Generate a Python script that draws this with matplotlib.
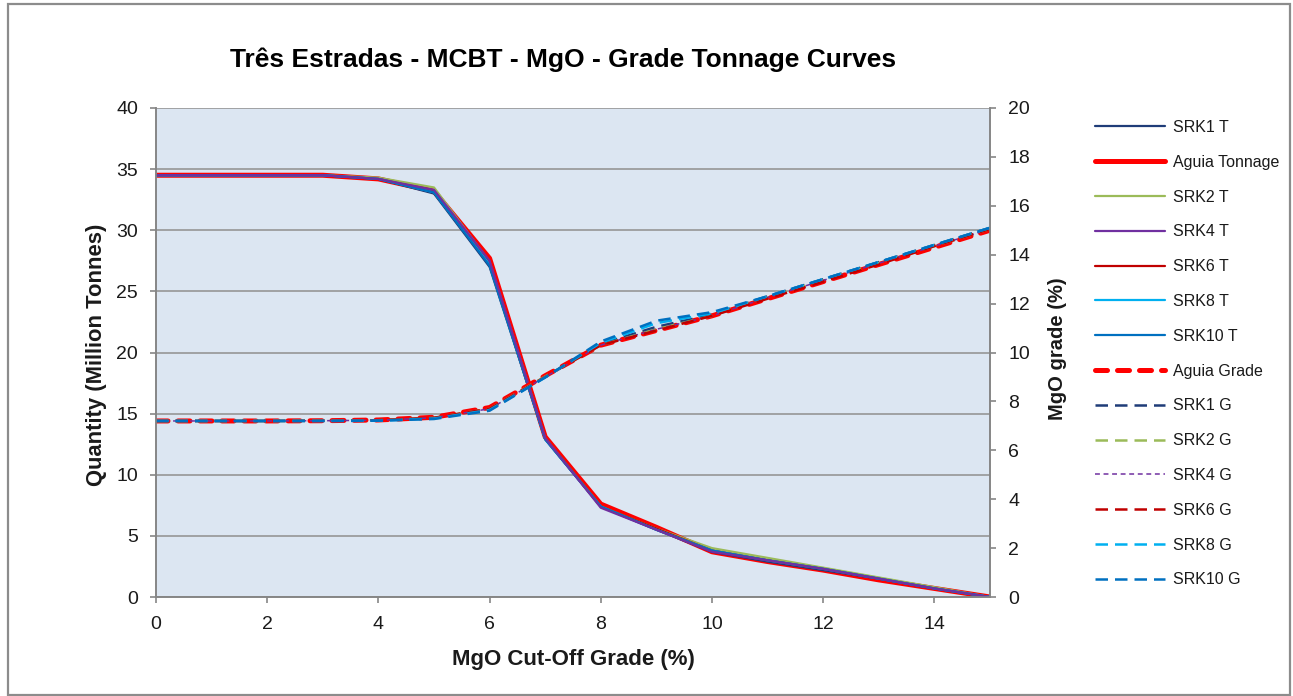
import matplotlib
matplotlib.use("Agg")
import matplotlib.pyplot as plt
from matplotlib.patches import Rectangle

plt.rcParams['font.family'] = ['Liberation Sans', 'DejaVu Sans']

# ---- data ----
cutoff = [0, 1, 2, 3, 4, 5, 6, 7, 8, 9, 10, 11, 12, 13, 14, 15]

srk1_t   = [34.5, 34.5, 34.5, 34.5, 34.2, 33.0, 27.0, 12.9, 7.4, 5.5, 3.7, 2.9, 2.2, 1.5, 0.7, 0.0]
aguia_t  = [34.5, 34.5, 34.5, 34.5, 34.2, 33.2, 27.7, 13.1, 7.6, 5.7, 3.7, 2.9, 2.2, 1.4, 0.7, 0.0]
srk2_t   = [34.5, 34.5, 34.5, 34.5, 34.3, 33.5, 27.4, 13.0, 7.4, 5.6, 4.0, 3.2, 2.4, 1.6, 0.8, 0.0]
srk4_t   = [34.5, 34.5, 34.5, 34.5, 34.2, 33.3, 27.5, 13.0, 7.3, 5.5, 3.7, 3.0, 2.3, 1.5, 0.7, 0.0]
srk6_t   = [34.5, 34.5, 34.5, 34.5, 34.2, 33.2, 27.4, 13.0, 7.4, 5.6, 3.8, 3.0, 2.3, 1.5, 0.7, 0.0]
srk8_t   = [34.5, 34.5, 34.5, 34.5, 34.2, 33.1, 27.2, 12.9, 7.4, 5.5, 3.8, 3.0, 2.3, 1.5, 0.7, 0.0]
srk10_t  = [34.5, 34.5, 34.5, 34.5, 34.2, 33.1, 27.1, 12.9, 7.4, 5.5, 3.8, 3.0, 2.3, 1.5, 0.7, 0.0]

aguia_g  = [7.2, 7.2, 7.2, 7.21, 7.24, 7.35, 7.75, 9.05, 10.3, 10.9, 11.5, 12.2, 12.9, 13.6, 14.3, 15.0]
srk1_g   = [7.2, 7.2, 7.2, 7.21, 7.23, 7.32, 7.68, 9.0, 10.35, 11.05, 11.55, 12.3, 13.0, 13.7, 14.4, 15.1]
srk2_g   = [7.2, 7.2, 7.2, 7.21, 7.23, 7.33, 7.7, 9.02, 10.3, 10.95, 11.5, 12.25, 12.95, 13.65, 14.35, 15.05]
srk4_g   = [7.2, 7.2, 7.2, 7.21, 7.23, 7.33, 7.7, 9.0, 10.3, 10.95, 11.5, 12.25, 12.95, 13.65, 14.35, 15.05]
srk6_g   = [7.2, 7.2, 7.2, 7.21, 7.23, 7.33, 7.7, 9.0, 10.3, 10.9, 11.5, 12.2, 12.9, 13.6, 14.35, 15.05]
srk8_g   = [7.2, 7.2, 7.2, 7.2, 7.21, 7.3, 7.65, 8.98, 10.4, 11.2, 11.6, 12.3, 13.0, 13.7, 14.4, 15.1]
srk10_g  = [7.2, 7.2, 7.2, 7.2, 7.21, 7.28, 7.62, 8.98, 10.45, 11.3, 11.65, 12.3, 13.0, 13.7, 14.4, 15.1]

tonnage_labels = ['SRK1 T', 'Aguia Tonnage', 'SRK2 T', 'SRK4 T', 'SRK6 T', 'SRK8 T', 'SRK10 T']
grade_labels = ['Aguia Grade', 'SRK1 G', 'SRK2 G', 'SRK4 G', 'SRK6 G', 'SRK8 G', 'SRK10 G']

left_ticks = [0, 5, 10, 15, 20, 25, 30, 35, 40]
right_ticks = [0, 2, 4, 6, 8, 10, 12, 14, 16, 18, 20]
x_ticks = [0, 2, 4, 6, 8, 10, 12, 14]

# ---- styling ----
C_NAVY = '#1F3C78'
C_RED = '#FF0000'
C_GREEN = '#9BBB59'
C_PURPLE = '#7030A0'
C_DRED = '#C00000'
C_LBLUE = '#00B0F0'
C_BLUE = '#0070C0'
GRID = '#969696'
SPINE = '#868686'
TXT = '#1a1a1a'

W, H = 1293, 696
fig = plt.figure(figsize=(W / 100, H / 100), dpi=100)
fig.patch.set_facecolor('white')

x0, x1, y0, y1 = 156, 990, 108, 597
ax = fig.add_axes([x0 / W, 1 - y1 / H, (x1 - x0) / W, (y1 - y0) / H])
ax.set_facecolor('#DCE6F2')
ax2 = ax.twinx()

t_series = [srk1_t, aguia_t, srk2_t, srk4_t, srk6_t, srk8_t, srk10_t]
t_colors = [C_NAVY, C_RED, C_GREEN, C_PURPLE, C_DRED, C_LBLUE, C_BLUE]
t_lw = [1.6, 3.6, 1.6, 1.6, 1.6, 1.6, 1.6]
t_z = [2.1, 2.0, 2.2, 2.6, 2.3, 2.4, 2.5]
handles = []
for vals, col, lw, z, lab in zip(t_series, t_colors, t_lw, t_z, tonnage_labels):
    h, = ax.plot(cutoff, vals, color=col, lw=lw, label=lab, zorder=z,
                 solid_capstyle='round', solid_joinstyle='round')
    handles.append(h)

g_series = [aguia_g, srk1_g, srk2_g, srk4_g, srk6_g, srk8_g, srk10_g]
g_colors = [C_RED, C_NAVY, C_GREEN, C_PURPLE, C_DRED, C_LBLUE, C_BLUE]
for vals, col, lab in zip(g_series, g_colors, grade_labels):
    if lab == 'Aguia Grade':
        h, = ax2.plot(cutoff, vals, color=col, lw=3.6, label=lab,
                      dashes=(2.4, 2.0), dash_capstyle='round')
    elif lab == 'SRK4 G':
        h, = ax2.plot(cutoff, vals, color=col, lw=1.1, label=lab,
                      dashes=(3.2, 2.4))
    else:
        h, = ax2.plot(cutoff, vals, color=col, lw=1.8, label=lab,
                      dashes=(5.0, 2.8))
    handles.append(h)

ax.set_xlim(0, 15)
ax.set_ylim(0, 40)
ax2.set_ylim(0, 20)
ax.set_xticks(x_ticks)
ax.set_yticks(left_ticks)
ax2.set_yticks(right_ticks)

ax.yaxis.grid(True, color=GRID, lw=1.2)
ax.set_axisbelow(True)

for a in (ax, ax2):
    for s in a.spines.values():
        s.set_color(SPINE)
        s.set_linewidth(1.2)
    a.spines['top'].set_visible(False)
ax.tick_params(axis='both', direction='out', length=4, width=1.2, color=SPINE,
               labelsize=14, labelcolor=TXT)
ax.tick_params(axis='x', pad=10)
ax.tick_params(axis='y', pad=9)
ax2.tick_params(axis='y', direction='out', length=4, width=1.2, color=SPINE,
                labelsize=14, labelcolor=TXT, pad=9)

ax.set_xlabel('MgO Cut-Off Grade (%)', fontsize=16, fontweight='bold', color=TXT)
ax.set_ylabel('Quantity (Million Tonnes)', fontsize=15.8, fontweight='bold', color=TXT)
ax2.set_ylabel('MgO grade (%)', fontsize=14.5, fontweight='bold', color=TXT)
ax.xaxis.set_label_coords(0.5, (y1 - 649) / (y1 - y0))
ax.yaxis.set_label_coords((107 - x0) / (x1 - x0), (y1 - 355) / (y1 - y0))
ax2.yaxis.set_label_coords((1048 - x0) / (x1 - x0), (y1 - 349) / (y1 - y0))

fig.text(563 / W, 1 - 60 / H, 'Três Estradas - MCBT - MgO - Grade Tonnage Curves',
         ha='center', va='center', fontsize=19, fontweight='bold', color='black')

leg = fig.legend(handles=handles, loc='upper left',
                 bbox_to_anchor=(1095 / W, 1 - 120 / H),
                 frameon=False, fontsize=11.5, handlelength=4.4,
                 handletextpad=0.5, labelspacing=1.24, borderpad=0,
                 borderaxespad=0)
for t in leg.get_texts():
    t.set_color(TXT)

fig.add_artist(Rectangle((8 / W, 1 - 695 / H), (1290 - 8) / W, (695 - 4) / H,
                         transform=fig.transFigure, fill=False,
                         edgecolor='#8c8c8c', lw=1.6))

fig.savefig('out.png', dpi=100)
